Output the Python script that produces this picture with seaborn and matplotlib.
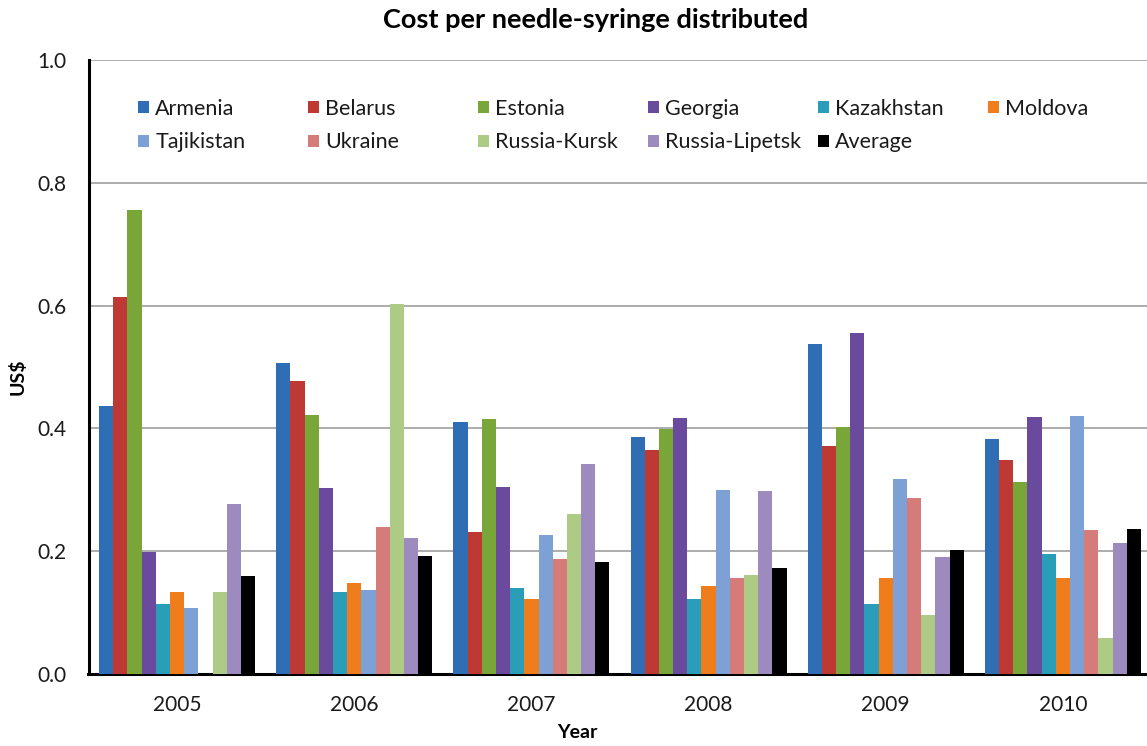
import numpy as np
import pandas as pd
import matplotlib
matplotlib.use("Agg")
import matplotlib.pyplot as plt
from matplotlib.patches import Patch
import seaborn as sns

# Cost per needle-syringe distributed (US$), by country and year
years = ["2005", "2006", "2007", "2008", "2009", "2010"]
countries = ["Armenia", "Belarus", "Estonia", "Georgia", "Kazakhstan", "Moldova",
             "Tajikistan", "Ukraine", "Russia-Kursk", "Russia-Lipetsk", "Average"]

armenia = [0.436, 0.507, 0.410, 0.386, 0.537, 0.383]
belarus = [0.614, 0.478, 0.231, 0.365, 0.371, 0.349]
estonia = [0.755, 0.422, 0.415, 0.399, 0.403, 0.313]
georgia = [0.199, 0.303, 0.305, 0.417, 0.556, 0.418]
kazakhstan = [0.114, 0.133, 0.140, 0.122, 0.114, 0.195]
moldova = [0.133, 0.148, 0.122, 0.144, 0.157, 0.156]
tajikistan = [0.108, 0.137, 0.226, 0.299, 0.318, 0.420]
ukraine = [np.nan, 0.239, 0.187, 0.156, 0.287, 0.235]
russia_kursk = [0.133, 0.602, 0.261, 0.161, 0.096, 0.059]
russia_lipetsk = [0.277, 0.221, 0.342, 0.298, 0.190, 0.213]
average = [0.160, 0.192, 0.183, 0.173, 0.202, 0.236]

series = [armenia, belarus, estonia, georgia, kazakhstan, moldova,
          tajikistan, ukraine, russia_kursk, russia_lipetsk, average]

colors = ["#2F6EB5", "#BE3834", "#78A638", "#6A4A9C", "#2A9EB9", "#EF7D1C",
          "#7DA0D5", "#D57C7B", "#AECB85", "#9D8BC0", "#000000"]

df = pd.DataFrame(
    [(y, c, v) for c, vals in zip(countries, series) for y, v in zip(years, vals)],
    columns=["Year", "Country", "Cost"],
)

sns.set_theme(style="white")
plt.rcParams["font.family"] = ["Lato", "DejaVu Sans"]
plt.rcParams["text.color"] = "#1A1A1A"
plt.rcParams["xtick.color"] = "#1A1A1A"
plt.rcParams["ytick.color"] = "#1A1A1A"

fig = plt.figure(figsize=(11.47, 7.46), dpi=100)
ax = fig.add_axes([88.5 / 1147, 72 / 746, 1063 / 1147, 614 / 746])

sns.barplot(data=df, x="Year", y="Cost", hue="Country", hue_order=countries,
            order=years, palette=colors, errorbar=None, width=0.88,
            saturation=1, legend=False, ax=ax, zorder=3)
for p in ax.patches:
    p.set_edgecolor("none")

yt = np.arange(0, 1.01, 0.2)
ax.set_ylim(0, 1.0)
ax.set_yticks(yt)
ax.set_yticklabels([f"{t:.1f}" for t in yt], fontsize=15)
ax.tick_params(axis="x", labelsize=15, length=0, pad=15)
ax.tick_params(axis="y", length=0, pad=16)
ax.yaxis.grid(True, color="#A6A6A6", linewidth=1.3, zorder=0)
ax.set_axisbelow(True)
for s in ["top", "right"]:
    ax.spines[s].set_visible(False)
for s in ["left", "bottom"]:
    ax.spines[s].set_color("black")
    ax.spines[s].set_linewidth(2.2)
ax.set_xlabel("")
ax.set_ylabel("")

fig.text(596 / 1147, 1 - 20 / 746, "Cost per needle-syringe distributed",
         ha="center", va="center", fontsize=19.5, fontweight="bold", color="black")
fig.text(577 / 1147, 1 - 733 / 746, "Year", ha="center", va="center",
         fontsize=14, fontweight="bold", color="black")
fig.text(18 / 1147, 1 - 377 / 746, "US$", ha="center", va="center",
         rotation=90, fontsize=14, fontweight="bold", color="black")

# Legend: six equally spaced columns, two rows, filled row by row
ncols = 6
col_x = [138 + 170 * j for j in range(ncols)]
for j in range(ncols):
    idx = [i for i in (j, j + ncols) if i < len(countries)]
    handles = [Patch(facecolor=colors[i], edgecolor="none") for i in idx]
    labels = [countries[i] for i in idx]
    fig.legend(handles, labels, loc="upper left",
               bbox_to_anchor=(col_x[j] / 1147, 1 - 99 / 746),
               bbox_transform=fig.transFigure, frameon=False,
               fontsize=15.5, handlelength=0.5, handleheight=0.5,
               handletextpad=0.3, labelspacing=0.62, borderaxespad=0,
               borderpad=0)

fig.savefig("out.png", dpi=100)
